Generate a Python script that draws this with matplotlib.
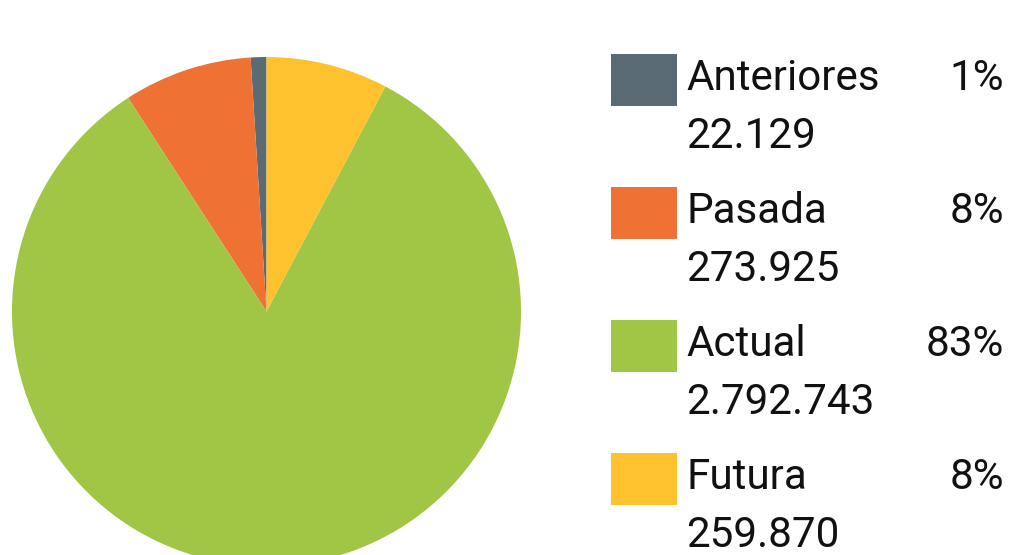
import matplotlib
matplotlib.use("Agg")
import matplotlib.pyplot as plt
from matplotlib.patches import Rectangle

plt.rcParams['font.family'] = ['Roboto', 'DejaVu Sans']

labels = ["Anteriores", "Pasada", "Actual", "Futura"]
values = [22129, 273925, 2792743, 259870]
value_text = ["22.129", "273.925", "2.792.743", "259.870"]
colors = ["#5b6b76", "#ef7134", "#a1c545", "#fdc22d"]

W, H = 1019, 555
fig = plt.figure(figsize=(W / 100, H / 100), dpi=100)

total = sum(values)
# tiny slices are shown with at least 1% of the circle
shown = [max(v, total * 0.01) for v in values]

# pie axes: circle spans x 12..521, y 57..566 (pixels from top)
left, top, size = 12, 57, 509
ax = fig.add_axes([left / W, (H - top - size) / H, size / W, size / H])
ax.pie(shown, colors=colors, startangle=90, counterclock=True,
       wedgeprops=dict(linewidth=0))
ax.set_xlim(-1, 1)
ax.set_ylim(-1, 1)
ax.set_aspect('equal')
ax.axis('off')

fs = 30.3
step = 133
for i, (lab, v, vt, c) in enumerate(zip(labels, values, value_text, colors)):
    y0 = 54 + i * step
    fig.patches.append(Rectangle((611 / W, 1 - (y0 + 52) / H), 66 / W, 52 / H,
                                 transform=fig.transFigure, facecolor=c,
                                 edgecolor='none'))
    fig.text(686 / W, 1 - (y0 + 36) / H, lab, fontsize=fs, va='baseline',
             ha='left', color='#111111')
    fig.text(1004 / W, 1 - (y0 + 36) / H, f"{round(v / total * 100)}%",
             fontsize=fs, va='baseline', ha='right', color='#111111')
    fig.text(686 / W, 1 - (y0 + 94) / H, vt, fontsize=fs, va='baseline',
             ha='left', color='#111111')

fig.savefig("out.png", dpi=100)
